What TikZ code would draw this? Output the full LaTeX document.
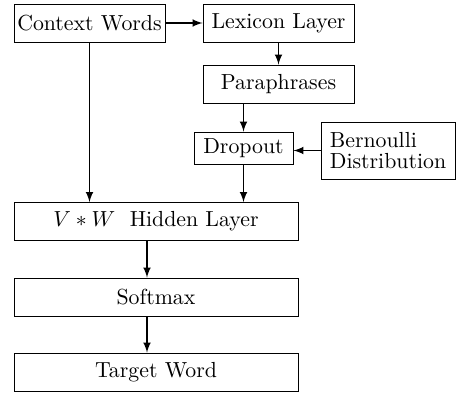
\documentclass[tikz,border=0pt]{standalone}
\usetikzlibrary{shapes,arrows,positioning,calc}
\usepackage{amsmath}

\begin{document}
\begin{tikzpicture}[
    x=0.01612cm, y=-0.01612cm,
    block/.style={draw, rectangle, inner sep=1pt, minimum width=2.434cm, minimum height=0.613cm},
    wide/.style={block, minimum width=4.578cm},
    arrow/.style={->, semithick, >=latex}
]

\useasboundingbox (0,0) rectangle (456,397);

% Top row
\node[block] (ctx) at (89.5, 23) {Context Words};
\node[block] (lex) at (278.5, 23) {Lexicon Layer};

% Paraphrase path
\node[block] (para) at (278.5, 84) {Paraphrases};
\node[block, minimum width=1.596cm, minimum height=0.516cm] (drop) at (243.5, 148) {Dropout};
\node[block, align=left, minimum width=2.16cm, minimum height=0.919cm] (bern) at (388, 150.5) {Bernoulli\\[-2pt]Distribution};

% Main stack
\node[wide] (hid) at (156, 221.5) {$V*W$\ \ Hidden Layer};
\node[wide] (soft) at (156, 297) {Softmax};
\node[wide] (tgt) at (156, 372) {Target Word};

% Arrows
\draw[arrow] (ctx) -- (lex);
\draw[arrow] (lex) -- (para);
\draw[arrow] (drop.north |- para.south) -- (drop.north);
\draw[arrow] (bern.west) -- (bern.west -| drop.east);
\draw[arrow] (ctx.south) -- (ctx.south |- hid.north);
\draw[arrow] (drop.south) -- (drop.south |- hid.north);
\draw[arrow] ([xshift=-0.145cm]hid.south) -- ([xshift=-0.145cm]soft.north);
\draw[arrow] ([xshift=-0.145cm]soft.south) -- ([xshift=-0.145cm]tgt.north);

\end{tikzpicture}
\end{document}
